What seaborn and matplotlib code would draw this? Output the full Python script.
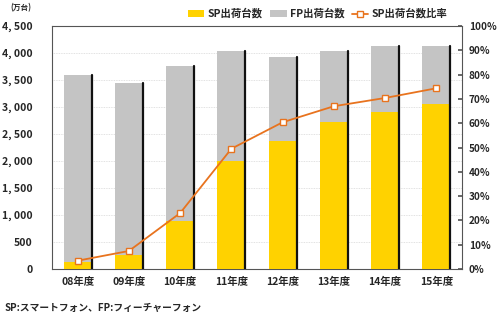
import matplotlib
matplotlib.use("Agg")
import matplotlib.pyplot as plt
import matplotlib.ticker as mticker
from matplotlib.patches import Patch
from matplotlib.lines import Line2D
import seaborn as sns
import pandas as pd

years = ["08年度", "09年度", "10年度", "11年度", "12年度", "13年度", "14年度", "15年度"]
sp_units = [120, 250, 885, 2000, 2370, 2720, 2900, 3055]
fp_units = [3470, 3190, 2880, 2040, 1560, 1320, 1230, 1075]
sp_ratio = [3.4, 7.4, 23.0, 49.5, 60.4, 67.0, 70.4, 74.4]

sns.set_theme(style="white")
plt.rcParams['font.family'] = ['Noto Sans CJK JP', 'DejaVu Sans']

YELLOW = "#FFD200"
GRAY = "#C4C4C4"
ORANGE = "#E8731E"

df = pd.DataFrame({"year": years, "sp": sp_units, "fp": fp_units, "ratio": sp_ratio})
df["total"] = df["sp"] + df["fp"]

fig = plt.figure(figsize=(5.0, 3.26), dpi=100)
ax = fig.add_axes([0.104, 0.175, 0.82, 0.745])

sns.barplot(data=df, x="year", y="total", color=GRAY, width=0.55, ax=ax,
            saturation=1, edgecolor="none", zorder=2)
gray_bars = list(ax.patches)
sns.barplot(data=df, x="year", y="sp", color=YELLOW, width=0.55, ax=ax,
            saturation=1, edgecolor="none", zorder=3)
for p in gray_bars:
    xr = p.get_x() + p.get_width()
    ax.plot([xr, xr], [0, p.get_height()], color="#111111", lw=1.6, zorder=4)

ax.set_ylim(0, 4500)
ax.set_yticks(range(0, 4501, 500))
ax.yaxis.set_major_formatter(mticker.FuncFormatter(lambda v, _: f"{int(v):,}".replace(",", ", ")))
ax.set_xlim(-0.5, len(years) - 0.5)
ax.grid(axis="y", color="#D8D8D8", lw=0.6, ls=(0, (1, 1)), zorder=0)
ax.set_axisbelow(True)
ax.set_xlabel("")
ax.set_ylabel("")
for s in ax.spines.values():
    s.set_color("#555555")
    s.set_linewidth(0.8)
ax.tick_params(axis="y", labelsize=7.5, length=0, pad=14)
ax.tick_params(axis="x", labelsize=7.5, length=0, pad=6)
for t in ax.get_yticklabels() + ax.get_xticklabels():
    t.set_fontweight("bold")

ax2 = ax.twinx()
sns.lineplot(data=df, x="year", y="ratio", ax=ax2, color=ORANGE, lw=1.3,
             marker="s", markersize=4.5, markerfacecolor="white",
             markeredgecolor=ORANGE, markeredgewidth=1.0, zorder=5)
ax2.set_ylim(0, 100)
ax2.set_yticks(range(0, 101, 10))
ax2.yaxis.set_major_formatter(mticker.FuncFormatter(lambda v, _: f"{int(v)}%"))
ax2.set_ylabel("")
ax2.tick_params(axis="y", labelsize=7.2, length=3, direction="in", pad=5, color="#555555")
for t in ax2.get_yticklabels():
    t.set_fontweight("bold")
for s in ax2.spines.values():
    s.set_visible(False)

handles = [Patch(facecolor=YELLOW, edgecolor="none"),
           Patch(facecolor=GRAY, edgecolor="none"),
           Line2D([0], [0], color=ORANGE, lw=1.3, marker="s", markersize=4,
                  markerfacecolor="white", markeredgecolor=ORANGE)]
labels = ["SP出荷台数", "FP出荷台数", "SP出荷台数比率"]
leg = fig.legend(handles, labels, loc="center", bbox_to_anchor=(0.635, 0.958), ncol=3,
                 frameon=False, fontsize=7.5, handlelength=1.6, handleheight=0.6,
                 handletextpad=0.3, columnspacing=0.7)
for t in leg.get_texts():
    t.set_fontweight("bold")

fig.text(0.02, 0.975, "(万台)", fontsize=5.5, va="center", ha="left", fontweight="bold")
fig.text(0.01, 0.055, "SP:スマートフォン、FP:フィーチャーフォン", fontsize=7, va="center",
         ha="left", fontweight="bold")

fig.savefig("out.png", dpi=100)
